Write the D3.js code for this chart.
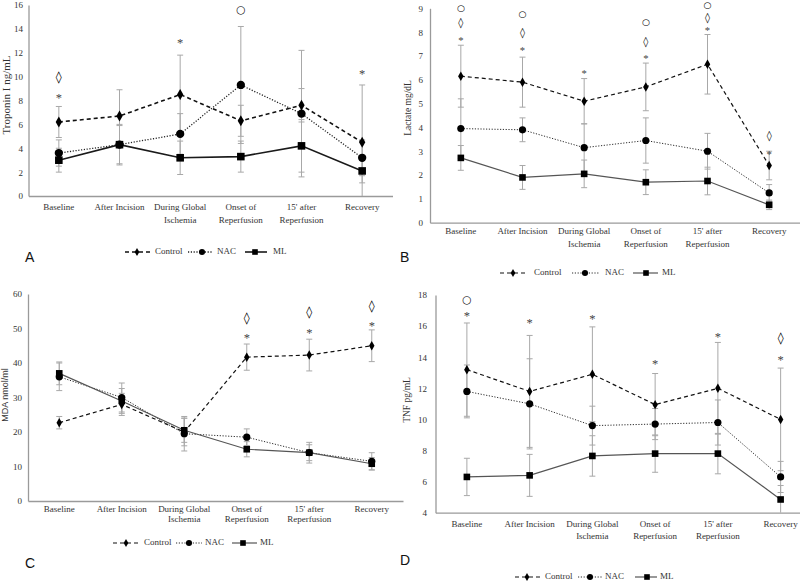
<!DOCTYPE html>
<html><head><meta charset="utf-8">
<script src="https://cdn.jsdelivr.net/npm/d3@7"></script>
<style>body{margin:0;background:#fff} svg{display:block}</style>
</head><body><svg id="c" width="800" height="581"></svg>
<script>
// ---------- DATA ----------
const categories = ["Baseline","After Incision","During Global|Ischemia","Onset of|Reperfusion","15' after|Reperfusion","Recovery"];
const seriesNames = ["Control","NAC","ML"];

// A: Troponin I ng/mL
const tropTicks = [0,2,4,6,8,10,12,14,16];
const tropControl = [6.2, 6.7, 8.5, 6.3, 7.6, 4.5];
const tropControlErr = [1.3, 2.2, 3.3, 1.3, 1.4, 4.8];
const tropNAC = [3.6, 4.3, 5.2, 9.3, 6.9, 3.2];
const tropNACErr = [1.1, 1.6, 1.7, 4.9, 5.3, 1.5];
const tropML = [3.0, 4.3, 3.2, 3.3, 4.2, 2.1];
const tropMLErr = [1.0, 1.7, 1.4, 1.3, 2.2, 1.0];
const tropMarks = [[0,"◊",9.9],[0,"*",8.4],[2,"*",13.0],[3,"○",15.6],[5,"*",10.4]];

// B: Lactate mg/dL
const lacTicks = [0,1,2,3,4,5,6,7,8,9];
const lacControl = [6.15, 5.9, 5.1, 5.7, 6.65, 2.4];
const lacControlErr = [1.3, 1.05, 0.95, 1.0, 1.25, 0.6];
const lacNAC = [3.95, 3.9, 3.15, 3.45, 3.0, 1.25];
const lacNACErr = [1.25, 0.5, 1.0, 0.95, 0.75, 0.35];
const lacML = [2.72, 1.9, 2.05, 1.7, 1.75, 0.75];
const lacMLErr = [0.52, 0.5, 0.58, 0.52, 0.58, 0.2];
const lacMarks = [[0,"○",9.0],[0,"◊",8.4],[0,"*",7.75],[1,"○",8.75],[1,"◊",7.95],[1,"*",7.3],[2,"*",6.35],
                  [3,"○",8.4],[3,"◊",7.6],[3,"*",7.0],[4,"○",9.1],[4,"◊",8.6],[4,"*",8.15],[5,"◊",3.65],[5,"*",2.95]];

// C: MDA nmol/ml
const mdaTicks = [0,10,20,30,40,50,60];
const mdaControl = [22.7, 28.0, 20.0, 41.7, 42.3, 45.0];
const mdaControlErr = [1.8, 3.2, 4.0, 3.8, 4.6, 4.6];
const mdaNAC = [36.0, 30.0, 19.5, 18.5, 14.0, 11.5];
const mdaNACErr = [4.0, 4.2, 5.0, 2.4, 3.0, 2.5];
const mdaML = [37.0, 29.0, 20.5, 15.0, 14.0, 10.8];
const mdaMLErr = [3.3, 3.6, 3.5, 2.2, 2.3, 1.8];
const mdaMarks = [[3,"◊",53.0],[3,"*",48.0],[4,"◊",54.5],[4,"*",49.5],[5,"◊",56.5],[5,"*",51.5]];

// D: TNF pg/mL
const tnfTicks = [4,6,8,10,12,14,16,18];
const tnfControl = [13.2, 11.8, 12.9, 10.95, 12.0, 10.0];
const tnfControlErr = [3.0, 3.6, 3.05, 2.0, 2.95, 3.3];
const tnfNAC = [11.8, 11.0, 9.6, 9.7, 9.8, 6.3];
const tnfNACErr = [1.7, 2.9, 1.25, 1.0, 1.45, 1.0];
const tnfML = [6.3, 6.4, 7.65, 7.8, 7.8, 4.85];
const tnfMLErr = [1.2, 1.35, 1.3, 1.2, 1.3, 0.9];
const tnfMarks = [[0,"○",17.7],[0,"*",16.8],[1,"*",16.4],[2,"*",16.6],[3,"*",13.7],[4,"*",15.5],[5,"◊",15.2],[5,"*",14.0]];

// ---------- LAYOUT ----------
const SERIF = "'Liberation Serif','Times New Roman',serif";
const SANS = "'Liberation Sans',Arial,sans-serif";
const panels = [
  {letter:"A", title:"Troponin I ng/mL", titleFont:SERIF, titleSize:11, titleX:7, titleY:95,
   x0:28.5, x1:392.5, yTop:5, yBot:196, ticks:tropTicks, tickX:23,
   cat1:208, catDy:13, letterX:25, letterY:262, legY:252,
   leg:[[125,150,137,153],[188,213,202,215],[245,267,255,271]],
   vals:[tropControl,tropNAC,tropML], errs:[tropControlErr,tropNACErr,tropMLErr], marks:tropMarks,
   mlColor:"#1a1a1a", lw:1.6, mk:1.15, symScale:1},
  {letter:"B", title:"Lactate mg/dL", titleFont:SERIF, titleSize:9.5, titleX:409, titleY:108,
   x0:430, x1:800, yTop:8.3, yBot:222.7, ticks:lacTicks, tickX:423,
   cat1:232, catDy:12.5, letterX:400, letterY:262, legY:273,
   leg:[[500,527,513,532],[572,600,585,603],[633,658,646,660]],
   vals:[lacControl,lacNAC,lacML], errs:[lacControlErr,lacNACErr,lacMLErr], marks:lacMarks,
   mlColor:"#555", lw:1.2, mk:1, symScale:0.85},
  {letter:"C", title:"MDA nmol/ml", titleFont:SANS, titleSize:9, titleX:6, titleY:395,
   x0:28, x1:403, yTop:294, yBot:501, ticks:mdaTicks, tickX:22,
   cat1:510, catDy:10, letterX:25, letterY:568, legY:543,
   leg:[[113,138,126,142],[176,202,189,203],[232,257,243,258]],
   vals:[mdaControl,mdaNAC,mdaML], errs:[mdaControlErr,mdaNACErr,mdaMLErr], marks:mdaMarks,
   mlColor:"#555", lw:1.2, mk:1, symScale:1},
  {letter:"D", title:"TNF pg/mL", titleFont:SERIF, titleSize:9.5, titleX:408, titleY:400,
   x0:435.5, x1:812, yTop:295, yBot:512.7, ticks:tnfTicks, tickX:427,
   cat1:525, catDy:12, letterX:400, letterY:565, legY:577,
   leg:[[515,540,527,543],[578,602,590,603],[635,657,647,658]],
   vals:[tnfControl,tnfNAC,tnfML], errs:[tnfControlErr,tnfNACErr,tnfMLErr], marks:tnfMarks,
   mlColor:"#555", lw:1.2, mk:1, symScale:1}
];

const svg = d3.select("#c");

function drawMarker(g, type, x, y, s){
  if(type===0){
    g.append("path").attr("d", d3.symbol(d3.symbolDiamond, 26*s*s)())
      .attr("transform",`translate(${x},${y})`).attr("fill","#000");
  } else if(type===1){
    g.append("circle").attr("cx",x).attr("cy",y).attr("r",3.6*s).attr("fill","#000");
  } else {
    const h=3.3*s;
    g.append("rect").attr("x",x-h).attr("y",y-h).attr("width",2*h).attr("height",2*h).attr("fill","#000");
  }
}

panels.forEach(p=>{
  const g = svg.append("g");
  const ymin = p.ticks[0], ymax = p.ticks[p.ticks.length-1];
  const x = d3.scalePoint().domain(d3.range(categories.length)).range([p.x0,p.x1]).padding(0.5);
  const y = d3.scaleLinear().domain([ymin,ymax]).range([p.yBot,p.yTop]);

  // y axis
  const ya = g.append("g").attr("transform",`translate(${p.x0},0)`)
    .call(d3.axisLeft(y).tickValues(p.ticks).tickSize(0).tickSizeOuter(0).tickPadding(p.x0-p.tickX));
  ya.attr("font-family",SERIF);
  ya.select(".domain").attr("stroke","#9a9a9a").attr("stroke-width",1.3);
  ya.selectAll("text").attr("font-family",SERIF).attr("font-size",9).attr("fill","#333");

  // x axis
  const xa = g.append("g").attr("transform",`translate(0,${p.yBot})`)
    .call(d3.axisBottom(x).tickSize(0).tickSizeOuter(0).tickFormat(""));
  xa.select(".domain").attr("stroke","#9a9a9a").attr("stroke-width",1.3);
  xa.selectAll("text").remove();

  // category labels
  categories.forEach((c,i)=>{
    const t = g.append("text").attr("x",x(i)).attr("y",p.cat1).attr("text-anchor","middle")
      .attr("font-family",SERIF).attr("font-size",9).attr("fill","#333").attr("dominant-baseline","middle");
    c.split("|").forEach((s,j)=>{
      t.append("tspan").attr("x",x(i)).attr("dy", j===0?0:p.catDy).text(s);
    });
  });

  // y title
  g.append("text").attr("transform",`translate(${p.titleX},${p.titleY}) rotate(-90)`)
    .attr("text-anchor","middle").attr("dominant-baseline","middle")
    .attr("font-family",p.titleFont).attr("font-size",p.titleSize).attr("fill","#333").text(p.title);

  // error bars
  const errColor = "#a8a8a8";
  p.vals.forEach((vals,si)=>{
    vals.forEach((v,i)=>{
      const e = p.errs[si][i];
      const hi = Math.min(v+e, ymax), lo = Math.max(v-e, ymin);
      const cx = x(i);
      g.append("line").attr("x1",cx).attr("x2",cx).attr("y1",y(hi)).attr("y2",y(lo))
        .attr("stroke",errColor).attr("stroke-width",1);
      [hi,lo].forEach(b=>{
        if(b===ymin) return;
        g.append("line").attr("x1",cx-3).attr("x2",cx+3).attr("y1",y(b)).attr("y2",y(b))
          .attr("stroke",errColor).attr("stroke-width",1);
      });
    });
  });

  // lines
  const line = d3.line().x((d,i)=>x(i)).y(d=>y(d));
  const styles = [
    {stroke:"#111", dash:"4,3", w:p.lw},
    {stroke:"#222", dash:"1.2,1.6", w:p.lw*0.8},
    {stroke:p.mlColor, dash:null, w:p.lw}
  ];
  p.vals.forEach((vals,si)=>{
    const st = styles[si];
    g.append("path").attr("d",line(vals)).attr("fill","none").attr("stroke",st.stroke)
      .attr("stroke-width",st.w).attr("stroke-dasharray",st.dash);
  });
  p.vals.forEach((vals,si)=>{
    vals.forEach((v,i)=>drawMarker(g, si, x(i), y(v), p.mk));
  });

  // significance marks
  p.marks.forEach(([i,sym,v])=>{
    const t = g.append("text").attr("x",x(i)).attr("y",y(v)).attr("text-anchor","middle")
      .attr("dominant-baseline","middle").text(sym);
    const s = p.symScale;
    if(sym==="*"){
      t.attr("font-family",SERIF).attr("font-size",12.5*s).attr("fill","#444").attr("dy","0.3em");
    } else if(sym==="◊"){
      t.attr("font-family","'DejaVu Sans',sans-serif").attr("font-size",12*s).attr("fill","#000");
    } else {
      t.attr("font-family","'DejaVu Sans',sans-serif").attr("font-size",10.5*s).attr("fill","#000");
    }
  });

  // letter
  g.append("text").attr("x",p.letterX).attr("y",p.letterY).attr("font-family",SANS)
    .attr("font-size",14).attr("fill","#111").text(p.letter);

  // legend
  p.leg.forEach(([lx0,lx1,mx,tx],si)=>{
    const st = styles[si];
    g.append("line").attr("x1",lx0).attr("x2",lx1).attr("y1",p.legY).attr("y2",p.legY)
      .attr("stroke",st.stroke).attr("stroke-width",st.w).attr("stroke-dasharray",st.dash);
    drawMarker(g, si, mx, p.legY, 0.85);
    g.append("text").attr("x",tx+2).attr("y",p.legY).attr("dominant-baseline","middle")
      .attr("font-family",SERIF).attr("font-size",9).attr("fill","#333").text(seriesNames[si]);
  });
});
</script></body></html>
